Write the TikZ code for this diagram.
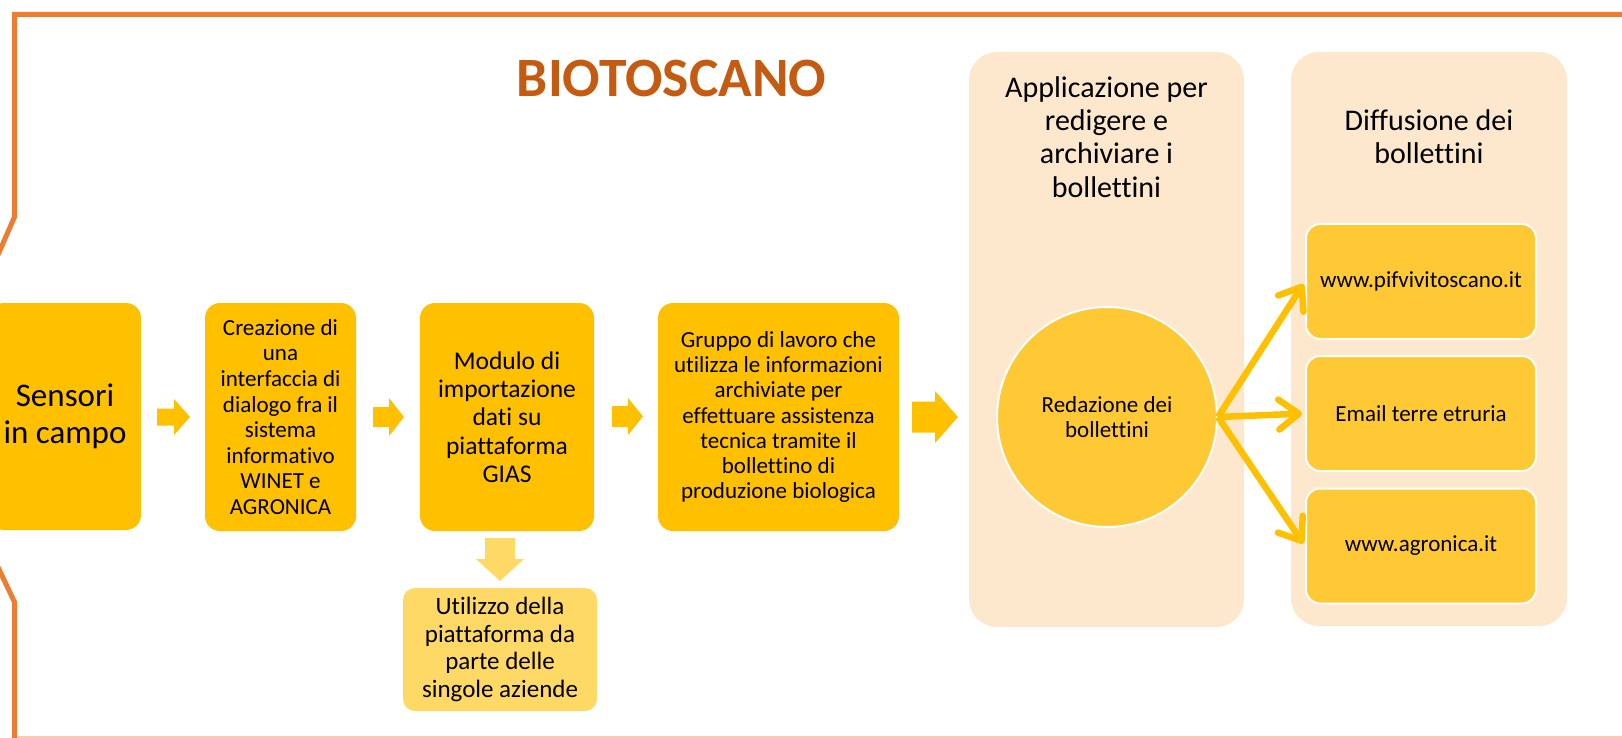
\documentclass[tikz,border=0pt]{standalone}
\usepackage{fontspec}
\setmainfont{Carlito}[Ligatures=NoCommon]
\usetikzlibrary{arrows.meta}
\definecolor{gold}{HTML}{FFC000}
\definecolor{lgold}{HTML}{FFD966}
\definecolor{cgold}{HTML}{FFC936}
\definecolor{peach}{HTML}{FDE8CE}
\definecolor{framecol}{HTML}{ED7D31}
\definecolor{faintcol}{HTML}{F8CBAD}
\definecolor{titlecol}{HTML}{C55A11}
\newcommand\setfs[2]{\fontsize{#1}{#2}\selectfont}
\newcommand\rblockarrow[7]{%
  \fill[#7] ({#1},{#4-#5}) -- ({#2},{#4-#5}) -- ({#2},{#4-#6}) -- ({#3},{#4}) -- ({#2},{#4+#6}) -- ({#2},{#4+#5}) -- ({#1},{#4+#5}) -- cycle;}
\begin{document}
\begin{tikzpicture}[x=1pt,y=-1pt,
  box/.style={fill=gold, rounded corners=15pt, align=center, inner sep=0pt, text=black},
  panel/.style={fill=peach, rounded corners=28pt, inner sep=0pt},
  sbox/.style={fill=cgold, draw=white, line width=2pt, rounded corners=14pt, minimum width=230pt, minimum height=115pt, align=center, inner sep=0pt, font=\setfs{23}{25.4}},
  fan/.style={draw=gold, line width=6.5pt, -{Straight Barb[length=20pt,width=30pt,round]}, shorten >=3pt},
  frame/.style={draw=framecol, line width=5pt},
  ptitle/.style={align=center, inner sep=0pt, font=\setfs{30}{33.3}}
]
\useasboundingbox (0,0) rectangle (1622,738);
\fill[white] (0,0) rectangle (1622,738);
\begin{scope}
\clip (0,0) rectangle (1622,738);
% frame
\draw[frame] (-3,257) -- (14.5,217) -- (14.5,14.5) -- (1630,14.5);
\draw[frame] (-3,565) -- (14.5,602) -- (14.5,745);
\draw[draw=faintcol, line width=2pt] (17,737) -- (1630,737);
% title
\node[font=\bfseries\setfs{55.5}{60}, text=titlecol, inner sep=0pt] (title) at (671.5,78.5) {BIOTOSCANO};
% panels
\node[panel, minimum width=275pt, minimum height=575pt] (p1) at (1106.5,339.5) {};
\node[panel, minimum width=276pt, minimum height=574pt] (p2) at (1429,339) {};
\node[ptitle] (p1t) at (1106.5,137) {Applicazione per\\redigere e\\archiviare i\\bollettini};
\node[ptitle] (p2t) at (1429,137) {Diffusione dei\\bollettini};
% flow boxes
\node[box, minimum width=152pt, minimum height=227pt, font=\setfs{33}{37}] (sens) at (65,416.5) {Sensori\\in campo};
\node[box, minimum width=151pt, minimum height=228pt, font=\setfs{23}{25.6}] (crea) at (280.5,417) {Creazione di\\una\\interfaccia di\\dialogo fra il\\sistema\\informativo\\WINET e\\AGRONICA};
\node[box, minimum width=174pt, minimum height=228pt, font=\setfs{25.5}{28.3}] (mod) at (507,417) {Modulo di\\importazione\\dati su\\piattaforma\\GIAS};
\node[box, minimum width=241pt, minimum height=228pt, font=\setfs{23}{25.2}] (grp) at (778.5,417) {Gruppo di lavoro che\\utilizza le informazioni\\archiviate per\\effettuare assistenza\\tecnica tramite il\\bollettino di\\produzione biologica};
\node[box, fill=lgold, rounded corners=12pt, minimum width=194pt, minimum height=123pt, font=\setfs{25}{27.7}] (util) at (500,649.5) {Utilizzo della\\piattaforma da\\parte delle\\singole aziende};
% block arrows
\rblockarrow{157}{174}{190}{417}{8.5}{18}{gold}
\rblockarrow{373}{389}{404}{417}{10}{19}{gold}
\rblockarrow{612}{628}{643}{416.5}{10.5}{18.5}{gold}
\rblockarrow{912}{935}{958}{417}{15.5}{26}{gold}
\fill[lgold] (485,538) -- (515,538) -- (515,559) -- (524,559) -- (500,581) -- (476,559) -- (485,559) -- cycle;
% circle
\node[circle, fill=cgold, draw=white, line width=2pt, minimum size=220pt, inner sep=0pt, align=center, font=\setfs{23}{25}] (circ) at (1107,417) {Redazione dei\\bollettini};
% right boxes
\node[sbox] (b1) at (1421,281.5) {www.pifvivitoscano.it};
\node[sbox] (b2) at (1421,413.5) {Email terre etruria};
\node[sbox] (b3) at (1421,546) {www.agronica.it};
\draw[fan] (circ.east) -- (b1.west);
\draw[fan] (circ.east) -- (b2.west);
\draw[fan] (circ.east) -- (b3.west);
\end{scope}
\end{tikzpicture}
\end{document}
